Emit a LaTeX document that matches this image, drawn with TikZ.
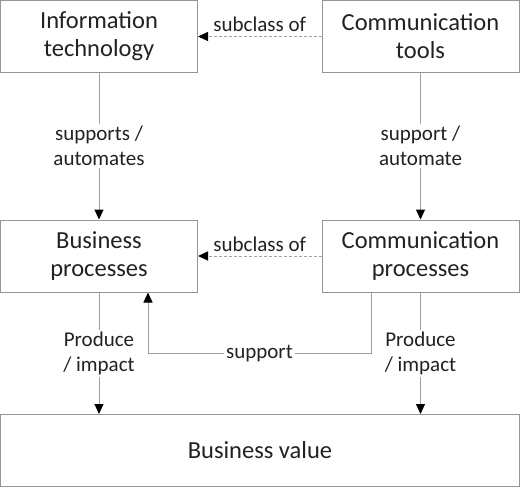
\documentclass[tikz,border=0pt]{standalone}
\usepackage{fontspec}
\setmainfont{Carlito}
\usetikzlibrary{arrows.meta}
\definecolor{boxgray}{HTML}{959595}
\definecolor{linegray}{HTML}{A0A0A0}
\definecolor{textdark}{HTML}{222222}
\begin{document}
\begin{tikzpicture}[x=1pt,y=-1pt,
    box/.style={draw=boxgray, line width=1pt, minimum width=197pt, minimum height=72pt,
      inner sep=0pt, align=center, text=textdark, font=\fontsize{24.5}{28}\selectfont},
    flow/.style={draw=linegray, line width=1pt, -{Triangle[length=10pt,width=9pt,color=black]}},
    sub/.style={flow, dash pattern=on 3pt off 2pt},
    lbl/.style={align=center, text=textdark, inner sep=2pt, font=\fontsize{21}{25}\selectfont}]
    \useasboundingbox (0,0) rectangle (520,488);

    % Kästen
    \node[box] (it) at (99,36.5) {Information\\technology};
    \node[box] (ct) at (420.5,36.5) {Communication\\tools};
    \node[box] (bp) at (99,256) {Business\\processes};
    \node[box] (cp) at (420.5,256) {Communication\\processes};
    \node[box, minimum width=519pt] (bv) at (260,450.5) {Business value};

    % Unterklassen
    \draw[sub] (ct) -- node[lbl, above=2pt] {subclass of} (it);
    \draw[sub] (cp) -- node[lbl, above=2pt] {subclass of} (bp);

    % Unterstützung
    \draw[flow] (it) -- node[lbl, fill=white] {supports /\\automates} (bp);
    \draw[flow] (ct) -- node[lbl, fill=white] {support /\\automate} (cp);
    \coordinate (supR) at (371,353);
    \coordinate (supL) at (148,353);
    \draw[flow] (cp.south -| supR) -- (supR) -- node[lbl, fill=white, yshift=-1pt] {support} (supL) -- (bp.south -| supL);

    % Wertbeitrag
    \draw[flow] (bp) -- node[lbl, fill=white] {Produce\\/ impact} (bv.north -| bp);
    \draw[flow] (cp) -- node[lbl, fill=white] {Produce\\/ impact} (bv.north -| cp);
\end{tikzpicture}
\end{document}
